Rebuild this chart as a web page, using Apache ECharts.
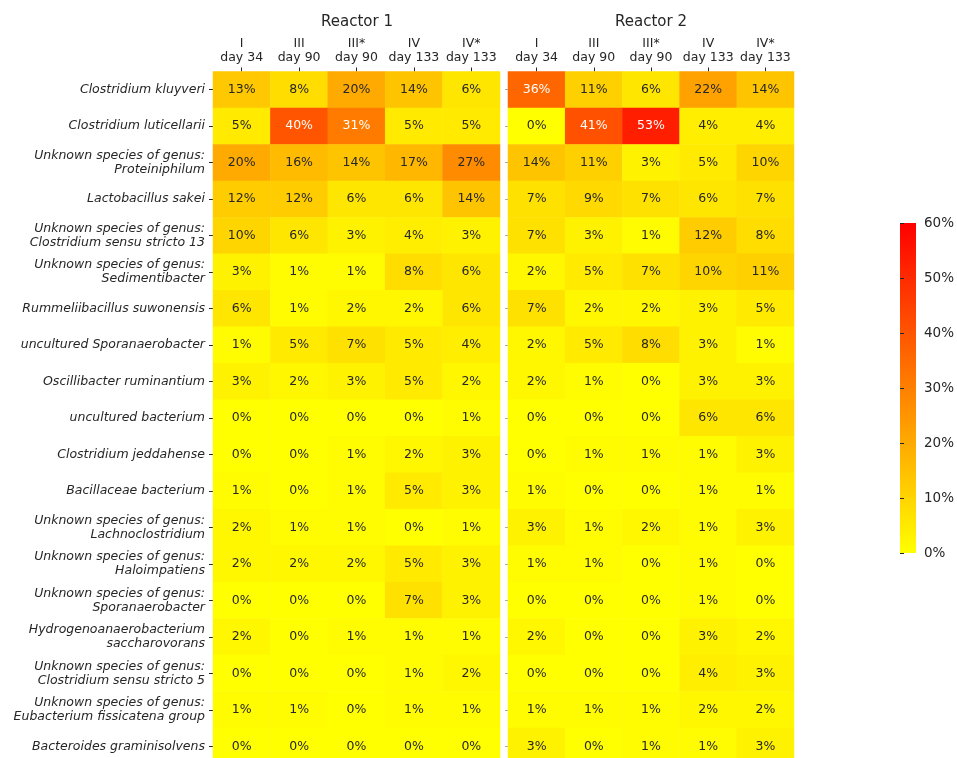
<!DOCTYPE html>
<html>
<head>
<meta charset="utf-8">
<title>Relative abundance heatmap – Reactor 1 and Reactor 2</title>
<script src="https://cdn.jsdelivr.net/npm/echarts@6/dist/echarts.min.js"></script>
<style>
  html, body { margin: 0; padding: 0; background: #fff; }
  #chart { width: 957px; height: 758px; }
</style>
</head>
<body>
<div id="chart"></div>
<script>
// Sampling points (columns), shared by both reactors
const samples = ['I\nday 34', 'III\nday 90', 'III*\nday 90', 'IV\nday 133', 'IV*\nday 133'];

// Species (rows), top to bottom
const species = [
  'Clostridium kluyveri',
  'Clostridium luticellarii',
  'Unknown species of genus:\nProteiniphilum',
  'Lactobacillus sakei',
  'Unknown species of genus:\nClostridium sensu stricto 13',
  'Unknown species of genus:\nSedimentibacter',
  'Rummeliibacillus suwonensis',
  'uncultured Sporanaerobacter',
  'Oscillibacter ruminantium',
  'uncultured bacterium',
  'Clostridium jeddahense',
  'Bacillaceae bacterium',
  'Unknown species of genus:\nLachnoclostridium',
  'Unknown species of genus:\nHaloimpatiens',
  'Unknown species of genus:\nSporanaerobacter',
  'Hydrogenoanaerobacterium\nsaccharovorans',
  'Unknown species of genus:\nClostridium sensu stricto 5',
  'Unknown species of genus:\nEubacterium fissicatena group',
  'Bacteroides graminisolvens'
];

// Relative abundance (%) per species, one array per row, columns follow `samples`
const reactor1 = [
  [13, 8, 20, 14, 6],
  [5, 40, 31, 5, 5],
  [20, 16, 14, 17, 27],
  [12, 12, 6, 6, 14],
  [10, 6, 3, 4, 3],
  [3, 1, 1, 8, 6],
  [6, 1, 2, 2, 6],
  [1, 5, 7, 5, 4],
  [3, 2, 3, 5, 2],
  [0, 0, 0, 0, 1],
  [0, 0, 1, 2, 3],
  [1, 0, 1, 5, 3],
  [2, 1, 1, 0, 1],
  [2, 2, 2, 5, 3],
  [0, 0, 0, 7, 3],
  [2, 0, 1, 1, 1],
  [0, 0, 0, 1, 2],
  [1, 1, 0, 1, 1],
  [0, 0, 0, 0, 0]
];

const reactor2 = [
  [36, 11, 6, 22, 14],
  [0, 41, 53, 4, 4],
  [14, 11, 3, 5, 10],
  [7, 9, 7, 6, 7],
  [7, 3, 1, 12, 8],
  [2, 5, 7, 10, 11],
  [7, 2, 2, 3, 5],
  [2, 5, 8, 3, 1],
  [2, 1, 0, 3, 3],
  [0, 0, 0, 6, 6],
  [0, 1, 1, 1, 3],
  [1, 0, 0, 1, 1],
  [3, 1, 2, 1, 3],
  [1, 1, 0, 1, 0],
  [0, 0, 0, 1, 0],
  [2, 0, 0, 3, 2],
  [0, 0, 0, 4, 3],
  [1, 1, 1, 2, 2],
  [3, 0, 1, 1, 3]
];

// Colour scale bounds and tick step (%)
const scaleMin = 0;
const scaleMax = 60;
const scaleStep = 10;

const FONT = 'DejaVu Sans';
const INK = '#262626';

// Flatten a row-major matrix into heatmap items; light text on dark cells
function toCells(matrix) {
  const cells = [];
  matrix.forEach((row, r) => {
    row.forEach((v, c) => {
      cells.push({
        value: [c, r, v],
        label: { color: v >= 30 ? '#ffffff' : INK }
      });
    });
  });
  return cells;
}

// The last row runs a few pixels past the bottom edge of the canvas
const GRID_TOP = 71.5;
const GRID_H = 693;

function sampleAxis(gridIndex) {
  return {
    type: 'category',
    gridIndex: gridIndex,
    data: samples,
    position: 'top',
    axisLine: { show: false },
    axisTick: { show: true, length: 4, alignWithLabel: true, lineStyle: { color: INK, width: 1 } },
    axisLabel: { color: INK, fontFamily: FONT, fontSize: 12.5, lineHeight: 14, margin: 7, interval: 0 },
    splitLine: { show: false }
  };
}

function speciesAxis(gridIndex, showLabels) {
  return {
    type: 'category',
    gridIndex: gridIndex,
    data: species,
    inverse: true,
    axisLine: { show: false },
    axisTick: { show: true, length: showLabels ? 4 : 3, alignWithLabel: true,
                lineStyle: { color: showLabels ? INK : '#aaaaaa', width: 1 } },
    axisLabel: { show: showLabels, color: INK, fontFamily: FONT, fontSize: 12.5,
                 fontStyle: 'italic', lineHeight: 14, margin: 8, interval: 0, align: 'right' },
    splitLine: { show: false }
  };
}

function heatSeries(idx, matrix, name) {
  return {
    name: name,
    type: 'heatmap',
    xAxisIndex: idx,
    yAxisIndex: idx,
    data: toCells(matrix),
    label: {
      show: true,
      fontFamily: FONT,
      fontSize: 12.5,
      formatter: p => p.value[2] + '%'
    },
    itemStyle: { borderWidth: 0 },
    emphasis: { disabled: true },
    progressive: 0,
    animation: false
  };
}

const chart = echarts.init(document.getElementById('chart'), null, { renderer: 'canvas' });

// Colour bar geometry
const CB = { left: 900, top: 223, width: 16, height: 330 };

chart.setOption({
  backgroundColor: '#ffffff',
  animation: false,
  textStyle: { fontFamily: FONT },
  title: [
    { text: 'Reactor 1', left: 357, top: 15, textAlign: 'center', padding: 0,
      textStyle: { fontFamily: FONT, fontSize: 15, fontWeight: 'normal', color: INK } },
    { text: 'Reactor 2', left: 651, top: 15, textAlign: 'center', padding: 0,
      textStyle: { fontFamily: FONT, fontSize: 15, fontWeight: 'normal', color: INK } }
  ],
  grid: [
    { left: 213, top: GRID_TOP, width: 287, height: GRID_H, containLabel: false, outerBoundsMode: 'none' },
    { left: 508, top: GRID_TOP, width: 286, height: GRID_H, containLabel: false, outerBoundsMode: 'none' },
    { left: CB.left, top: CB.top, width: CB.width, height: CB.height, containLabel: false, outerBoundsMode: 'none' }
  ],
  xAxis: [
    sampleAxis(0),
    sampleAxis(1),
    { type: 'value', gridIndex: 2, show: false, min: 0, max: 1 }
  ],
  yAxis: [
    speciesAxis(0, true),
    speciesAxis(1, false),
    {
      type: 'value', gridIndex: 2, position: 'right',
      min: scaleMin, max: scaleMax, interval: scaleStep,
      axisLine: { show: false },
      axisTick: { show: true, inside: false, length: 4, lineStyle: { color: INK } },
      axisLabel: { color: INK, fontFamily: FONT, fontSize: 13.5, margin: 8,
                   formatter: '{value}%' },
      splitLine: { show: false }
    }
  ],
  visualMap: {
    type: 'continuous',
    show: false,
    min: scaleMin,
    max: scaleMax,
    seriesIndex: [0, 1],
    dimension: 2,
    inRange: { color: ['#ffff00', '#ff0000'] }
  },
  graphic: [
    {
      type: 'rect',
      shape: { x: CB.left, y: CB.top, width: CB.width, height: CB.height },
      style: {
        fill: new echarts.graphic.LinearGradient(0, 1, 0, 0, [
          { offset: 0, color: '#ffff00' },
          { offset: 1, color: '#ff0000' }
        ])
      },
      z: 0
    }
  ],
  series: [
    heatSeries(0, reactor1, 'Reactor 1'),
    heatSeries(1, reactor2, 'Reactor 2')
  ]
});
</script>
</body>
</html>
